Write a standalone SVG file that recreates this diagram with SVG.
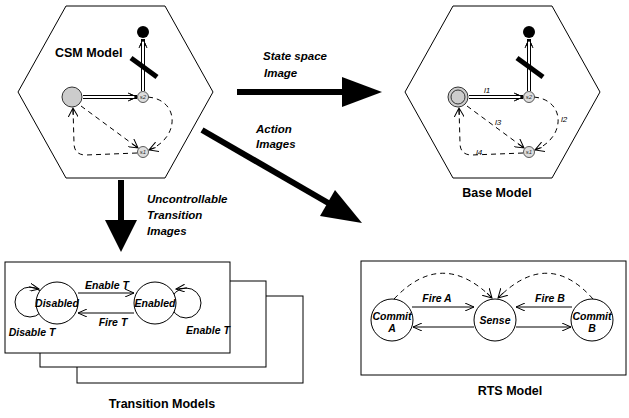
<svg xmlns="http://www.w3.org/2000/svg" width="629" height="418" viewBox="0 0 629 418">
<defs>
<style>
.ln{fill:none;stroke:#000;stroke-width:1}
.dash{fill:none;stroke:#000;stroke-width:1;stroke-dasharray:5,4}
.title{font-family:"Liberation Sans",Arial,sans-serif;font-weight:bold;font-size:12.5px;fill:#000}
.lab{font-family:"Liberation Sans",Arial,sans-serif;font-weight:bold;font-style:italic;font-size:11.5px;fill:#000}
.nl{font-family:"Liberation Sans",Arial,sans-serif;font-weight:bold;font-style:italic;font-size:10.5px;fill:#000}
.tiny{font-family:"Liberation Sans",Arial,sans-serif;font-style:italic;font-size:6px;fill:#333}
.sm{font-family:"Liberation Sans",Arial,sans-serif;font-style:italic;font-size:8px;fill:#000}
.node{fill:#fff;stroke:#000;stroke-width:1}
.st{fill:#ddd;stroke:#333;stroke-width:0.8}
.big{fill:#ccc;stroke:#333;stroke-width:1}
.thick{stroke:#000;stroke-width:6;fill:none}
</style>
<marker id="oa" viewBox="0 0 10 8" refX="9" refY="4" markerWidth="10" markerHeight="8" markerUnits="userSpaceOnUse" orient="auto">
<path d="M0,0 L9,4 L0,8" fill="none" stroke="#000" stroke-width="1"/>
</marker>
<marker id="da" viewBox="0 0 10 10" refX="9" refY="5" markerWidth="10" markerHeight="10" markerUnits="userSpaceOnUse" orient="auto">
<path d="M0,0 L9,5 L0,10 M2,5 L9,5" fill="none" stroke="#000" stroke-width="1"/>
</marker>
<g id="inner">
<line x1="143" y1="91" x2="143" y2="39" stroke="#000" stroke-width="4"/>
<line x1="143" y1="91" x2="143" y2="39" stroke="#fff" stroke-width="2"/>
<path d="M139,48 L143,39 L147,48 M140,46 L143,39 L146,46" class="ln"/>
<circle cx="143" cy="32" r="6" fill="#000"/>
<line x1="131" y1="58" x2="157" y2="77" stroke="#000" stroke-width="5"/>
<line x1="83" y1="97" x2="137" y2="97" stroke="#000" stroke-width="4"/>
<line x1="83" y1="97" x2="137" y2="97" stroke="#fff" stroke-width="2"/>
<path d="M128,93 L137,97 L128,101 M130,94 L137,97 L130,100" class="ln"/>
<path d="M81,106 L138,148" class="dash" marker-end="url(#da)"/>
<path d="M148,97 C180,100 180,138 149,150" class="dash" marker-end="url(#da)"/>
<path d="M137,153 L86,155 Q74,155 74,143 L73,108" class="dash" marker-end="url(#da)"/>
<circle cx="143" cy="97" r="5.5" class="st"/>
<text x="143" y="99" class="tiny" text-anchor="middle">s2</text>
<circle cx="143" cy="152" r="5.5" class="st"/>
<text x="143" y="154" class="tiny" text-anchor="middle">s1</text>
</g>
</defs>

<g id="csm-model">
<polygon points="18,92 66,6 165,6 213,92 165,178 66,178" class="ln"/>
<use href="#inner"/>
<circle cx="72" cy="97" r="10" class="big"/>
<text x="55" y="57" class="title">CSM Model</text>
</g>

<g id="base-model">
<polygon points="405,92 453,6 552,6 600,92 552,178 453,178" class="ln"/>
<use href="#inner" transform="translate(386,0)"/>
<circle cx="458" cy="97" r="10" class="big"/>
<circle cx="458" cy="97" r="7" class="big"/>
<text x="487" y="93" class="sm" text-anchor="middle">l1</text>
<text x="564" y="122" class="sm" text-anchor="middle">l2</text>
<text x="498" y="125" class="sm" text-anchor="middle">l3</text>
<text x="479" y="155" class="sm" text-anchor="middle">l4</text>
<text x="497" y="197" class="title" text-anchor="middle">Base Model</text>
</g>

<g id="transition-models">
<rect x="77" y="296" width="226" height="87" class="ln"/>
<rect x="40" y="281" width="226" height="86" class="node"/>
<rect x="5" y="262" width="225" height="91" class="node"/>
<circle cx="30" cy="302" r="15" class="ln"/>
<circle cx="186" cy="303" r="15" class="ln"/>
<circle cx="57" cy="303" r="21" class="node"/>
<circle cx="155" cy="303" r="21" class="node"/>
<path d="M29,287 L39,289" class="ln" marker-end="url(#oa)"/>
<path d="M187,288 L176,289" class="ln" marker-end="url(#oa)"/>
<text x="57" y="307" class="nl" text-anchor="middle">Disabled</text>
<text x="155" y="307" class="nl" text-anchor="middle">Enabled</text>
<line x1="78" y1="293" x2="134" y2="293" class="ln" marker-end="url(#oa)"/>
<line x1="134" y1="313" x2="78" y2="313" class="ln" marker-end="url(#oa)"/>
<text x="107" y="289" class="nl" text-anchor="middle">Enable T</text>
<text x="113" y="326" class="nl" text-anchor="middle">Fire T</text>
<text x="32" y="336" class="nl" text-anchor="middle">Disable T</text>
<text x="208" y="334" class="nl" text-anchor="middle">Enable T</text>
<text x="162" y="408" class="title" text-anchor="middle">Transition Models</text>
</g>

<g id="rts-model">
<rect x="361" y="261" width="265" height="114" class="ln"/>
<path d="M394,299 Q442,248 492,298" class="dash" marker-end="url(#da)"/>
<path d="M593,299 Q548,248 498,298" class="dash" marker-end="url(#da)"/>
<circle cx="392" cy="320" r="21" class="node"/>
<circle cx="495" cy="320" r="21" class="node"/>
<circle cx="592" cy="320" r="21" class="node"/>
<text x="392" y="320" class="nl" text-anchor="middle">Commit</text>
<text x="392" y="332" class="nl" text-anchor="middle">A</text>
<text x="495" y="324" class="nl" text-anchor="middle">Sense</text>
<text x="592" y="320" class="nl" text-anchor="middle">Commit</text>
<text x="592" y="332" class="nl" text-anchor="middle">B</text>
<line x1="412" y1="307" x2="474" y2="307" class="ln" marker-end="url(#oa)"/>
<line x1="474" y1="327" x2="413" y2="327" class="ln" marker-end="url(#oa)"/>
<line x1="572" y1="307" x2="516" y2="307" class="ln" marker-end="url(#oa)"/>
<line x1="516" y1="327" x2="571" y2="327" class="ln" marker-end="url(#oa)"/>
<text x="437" y="302" class="nl" text-anchor="middle">Fire A</text>
<text x="550" y="302" class="nl" text-anchor="middle">Fire B</text>
<text x="510" y="395" class="title" text-anchor="middle">RTS Model</text>
</g>

<g id="connectors">
<line x1="237" y1="92" x2="345" y2="92" class="thick"/>
<polygon points="342,77 382,92 342,107" fill="#000"/>
<text x="263" y="60" class="lab">State space</text>
<text x="264" y="77" class="lab">Image</text>
<line x1="202" y1="130" x2="330" y2="204" class="thick"/>
<polygon points="320,216 335,190 362,223" fill="#000"/>
<text x="256" y="133" class="lab">Action</text>
<text x="256" y="148" class="lab">Images</text>
<line x1="121" y1="180" x2="121" y2="222" class="thick"/>
<polygon points="105,220 137,220 121,252" fill="#000"/>
<text x="147" y="203" class="lab">Uncontrollable</text>
<text x="147" y="219" class="lab">Transition</text>
<text x="147" y="235" class="lab">Images</text>
</g>
</svg>
